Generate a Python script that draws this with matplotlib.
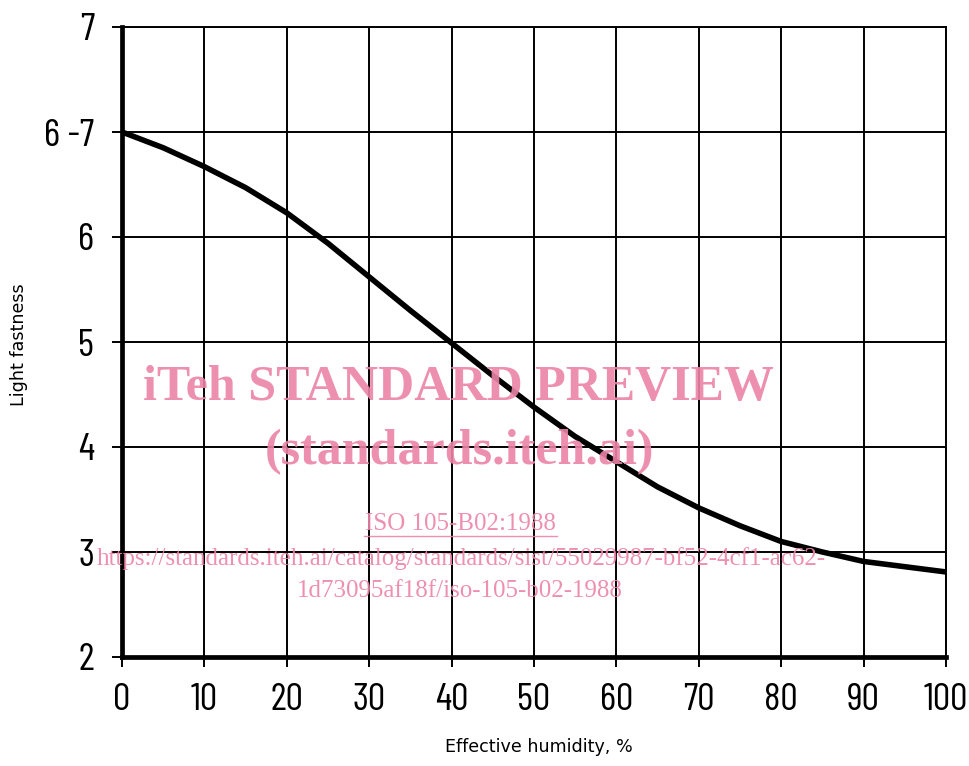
import matplotlib
matplotlib.use("Agg")
import matplotlib.pyplot as plt
from matplotlib import font_manager

# Data
humidity = [0, 5, 10, 15, 20, 25, 30, 35, 40, 45, 50, 55, 60, 65, 70, 75, 80, 85, 90, 95, 100]
# fastness expressed on the ordinal scale index (0='2', 1='3', 2='4', 3='5', 4='6', 5='6-7', 6='7')
fastness = [5.0, 4.85, 4.67, 4.47, 4.23, 3.94, 3.62, 3.30, 2.99, 2.68, 2.38, 2.10,
            1.86, 1.62, 1.42, 1.25, 1.10, 1.00, 0.91, 0.86, 0.81]
y_levels = [0, 1, 2, 3, 4, 5, 6]
y_labels = ['2', '3', '4', '5', '6', '6 -7', '7']
x_ticks = [0, 10, 20, 30, 40, 50, 60, 70, 80, 90, 100]

names = {f.name for f in font_manager.fontManager.ttflist}
tick_family, tick_size, tick_weight = 'DejaVu Sans', 19, 'normal'
for fam in ['Barlow Condensed', 'Roboto Condensed', 'Oswald']:
    if fam in names:
        tick_family, tick_size, tick_weight = fam, 28, 'normal'
        break

fig = plt.figure(figsize=(9.7, 7.66), dpi=100)
ax = fig.add_axes([122/970, 1-657/766, (946-122)/970, (657-27)/766])

ax.plot(humidity, fastness, color='black', lw=4.0, solid_capstyle='round', zorder=5)

ax.set_xlim(0, 100)
ax.set_ylim(0, 6)
ax.set_xticks(x_ticks)
ax.set_yticks(y_levels)
ax.set_yticklabels(y_labels)
ax.grid(True, color='black', lw=1.4)
ax.set_axisbelow(True)

for s in ['top', 'right']:
    ax.spines[s].set_linewidth(1.4)
for s in ['left', 'bottom']:
    ax.spines[s].set_linewidth(3.4)

ax.tick_params(axis='both', direction='out', length=7, width=1.4, color='black')
ax.tick_params(axis='y', pad=13)
ax.tick_params(axis='x', pad=12)
for lab in ax.get_xticklabels() + ax.get_yticklabels():
    lab.set_fontfamily(tick_family)
    lab.set_fontsize(tick_size)
    lab.set_fontweight(tick_weight)

ax.set_ylabel('Light fastness', fontsize=12.6, family='DejaVu Sans')
ax.yaxis.set_label_coords((28-122)/824, 0.495)
ax.set_xlabel('Effective humidity, %', fontsize=12.6, family='DejaVu Sans')
ax.xaxis.set_label_coords((539-122)/824, (657-738)/630)

# Watermark
pink = '#ec84a6'
fig.text(458/970, 1-388/766, 'iTeh STANDARD PREVIEW', ha='center', va='center',
         family='Liberation Serif', weight='bold', size=36, color=pink, alpha=0.9, zorder=10)
fig.text(460/970, 1-452/766, '(standards.iteh.ai)', ha='center', va='center',
         family='Liberation Serif', weight='bold', size=36, color=pink, alpha=0.9, zorder=10)
fig.text(460/970, 1-524/766, 'ISO 105-B02:1988', ha='center', va='center',
         family='Liberation Serif', size=18, color=pink, alpha=0.9, zorder=10)
fig.add_artist(plt.Line2D([364/970, 557/970], [1-536/766, 1-536/766], color=pink, lw=1, alpha=0.9))
fig.text(461/970, 1-559/766,
         'https://standards.iteh.ai/catalog/standards/sist/55029987-bf52-4cf1-ac62-',
         ha='center', va='center', family='Liberation Serif', size=18, color=pink, alpha=0.9, zorder=10)
fig.text(460/970, 1-591/766, '1d73095af18f/iso-105-b02-1988', ha='center', va='center',
         family='Liberation Serif', size=18, color=pink, alpha=0.9, zorder=10)

fig.savefig('out.png', dpi=100)
